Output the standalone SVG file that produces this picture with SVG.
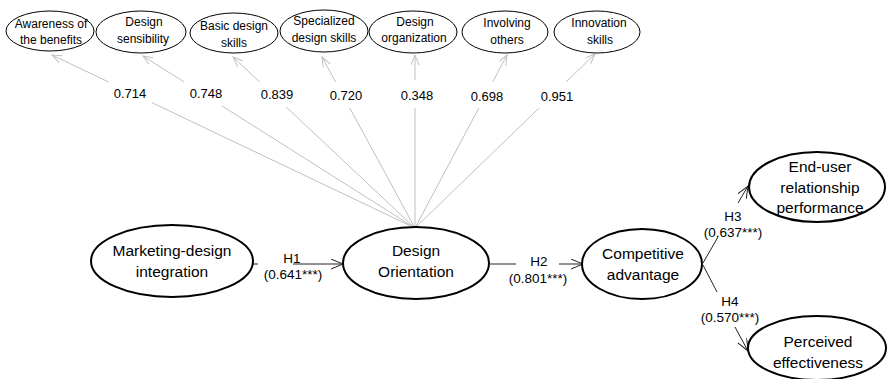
<svg xmlns="http://www.w3.org/2000/svg" width="888" height="379" viewBox="0 0 888 379">
<style>
.sm{fill:#fff;stroke:#000;stroke-width:1}
.lg{fill:#fff;stroke:#000;stroke-width:2}
text{font-family:"Liberation Sans",Arial,sans-serif;fill:#000;text-anchor:middle}
.t12{font-size:12px}
.t15{font-size:15.5px}
.lab{font-size:13px}
.hl{font-size:13.5px}
.g{stroke:#c0c0c0;stroke-width:1;fill:none}
.k{stroke:#222;stroke-width:1;fill:none}
</style>
<defs>
<marker id="ag" markerUnits="userSpaceOnUse" markerWidth="12" markerHeight="10" refX="10" refY="4" orient="auto"><path d="M0,0 L10,4 L0,8" fill="none" stroke="#c0c0c0" stroke-width="1"/></marker>
<marker id="ak" markerUnits="userSpaceOnUse" markerWidth="14" markerHeight="12" refX="12" refY="5" orient="auto"><path d="M0,0 L12,5 L0,10" fill="none" stroke="#222" stroke-width="1"/></marker>
</defs>
<g id="connectors">
<line class="g" x1="415" y1="228" x2="52" y2="55" marker-end="url(#ag)"/>
<line class="g" x1="415" y1="228" x2="143" y2="56" marker-end="url(#ag)"/>
<line class="g" x1="415" y1="228" x2="233" y2="57" marker-end="url(#ag)"/>
<line class="g" x1="415" y1="228" x2="322" y2="57" marker-end="url(#ag)"/>
<line class="g" x1="415" y1="228" x2="415" y2="55" marker-end="url(#ag)"/>
<line class="g" x1="415" y1="228" x2="507" y2="55" marker-end="url(#ag)"/>
<line class="g" x1="415" y1="228" x2="595" y2="54" marker-end="url(#ag)"/>
<g fill="#fff">
<rect x="108" y="82" width="44" height="24"/>
<rect x="184" y="82" width="44" height="24"/>
<rect x="255" y="82" width="44" height="25"/>
<rect x="324" y="82" width="44" height="26"/>
<rect x="395" y="80" width="44" height="28"/>
<rect x="465" y="82" width="44" height="26"/>
<rect x="535" y="82" width="44" height="26"/>
</g>
<line class="k" x1="253" y1="264" x2="258" y2="264"/>
<line class="k" x1="293" y1="264" x2="343" y2="264" marker-end="url(#ak)"/>
<line class="k" x1="490" y1="264" x2="516" y2="264"/>
<line class="k" x1="559" y1="264" x2="583" y2="264" marker-end="url(#ak)"/>
<line class="k" x1="703" y1="263" x2="718" y2="237"/>
<line class="k" x1="738" y1="203" x2="748" y2="186" marker-end="url(#ak)"/>
<line class="k" x1="703" y1="265" x2="717" y2="292"/>
<line class="k" x1="735" y1="327" x2="748" y2="351" marker-end="url(#ak)"/>
</g>
<g id="labels">
<text class="lab" x="130" y="98">0.714</text>
<text class="lab" x="206" y="98">0.748</text>
<text class="lab" x="277" y="99">0.839</text>
<text class="lab" x="346" y="100">0.720</text>
<text class="lab" x="417" y="100">0.348</text>
<text class="lab" x="487" y="101">0.698</text>
<text class="lab" x="557" y="101">0.951</text>
<text class="hl" x="292" y="263">H1</text>
<text class="hl" x="293" y="279">(0.641***)</text>
<text class="hl" x="539" y="266">H2</text>
<text class="hl" x="538" y="283">(0.801***)</text>
<text class="hl" x="733" y="221">H3</text>
<text class="hl" x="733" y="237">(0.637***)</text>
<text class="hl" x="730" y="306">H4</text>
<text class="hl" x="730" y="322">(0.570***)</text>
</g>
<g id="awareness"><ellipse class="sm" cx="50" cy="31" rx="44" ry="20"/><text class="t12" x="51" y="28">Awareness of</text><text class="t12" x="51" y="44">the benefits</text></g>
<g id="sensibility"><ellipse class="sm" cx="141" cy="32" rx="45" ry="21"/><text class="t12" x="144" y="26">Design</text><text class="t12" x="143" y="43">sensibility</text></g>
<g id="basic"><ellipse class="sm" cx="234" cy="33" rx="44" ry="20"/><text class="t12" x="234" y="30">Basic design</text><text class="t12" x="234" y="47">skills</text></g>
<g id="specialized"><ellipse class="sm" cx="324" cy="31" rx="44" ry="21"/><text class="t12" x="324" y="25">Specialized</text><text class="t12" x="324" y="42">design skills</text></g>
<g id="organization"><ellipse class="sm" cx="413" cy="32" rx="44" ry="21"/><text class="t12" x="415" y="26">Design</text><text class="t12" x="414" y="42">organization</text></g>
<g id="involving"><ellipse class="sm" cx="505" cy="32" rx="43" ry="21"/><text class="t12" x="507" y="27">Involving</text><text class="t12" x="507" y="44">others</text></g>
<g id="innovation"><ellipse class="sm" cx="597" cy="32" rx="43" ry="21"/><text class="t12" x="599" y="27">Innovation</text><text class="t12" x="600" y="44">skills</text></g>
<g id="marketing"><ellipse class="lg" cx="172" cy="261" rx="81" ry="36"/><text class="t15" x="172" y="256">Marketing-design</text><text class="t15" x="172" y="277">integration</text></g>
<g id="design-orientation"><ellipse class="lg" cx="416" cy="263" rx="73" ry="36"/><text class="t15" x="416" y="256">Design</text><text class="t15" x="416" y="277">Orientation</text></g>
<g id="competitive"><ellipse class="lg" cx="642" cy="264" rx="60" ry="35"/><text class="t15" x="643" y="259">Competitive</text><text class="t15" x="643" y="280">advantage</text></g>
<g id="end-user"><ellipse class="lg" cx="817" cy="187" rx="68" ry="35"/><text class="t15" x="820" y="172">End-user</text><text class="t15" x="820" y="193">relationship</text><text class="t15" x="820" y="213">performance</text></g>
<g id="perceived"><ellipse class="lg" cx="817" cy="348" rx="69" ry="32"/><text class="t15" x="818" y="347">Perceived</text><text class="t15" x="818" y="368">effectiveness</text></g>
</svg>
